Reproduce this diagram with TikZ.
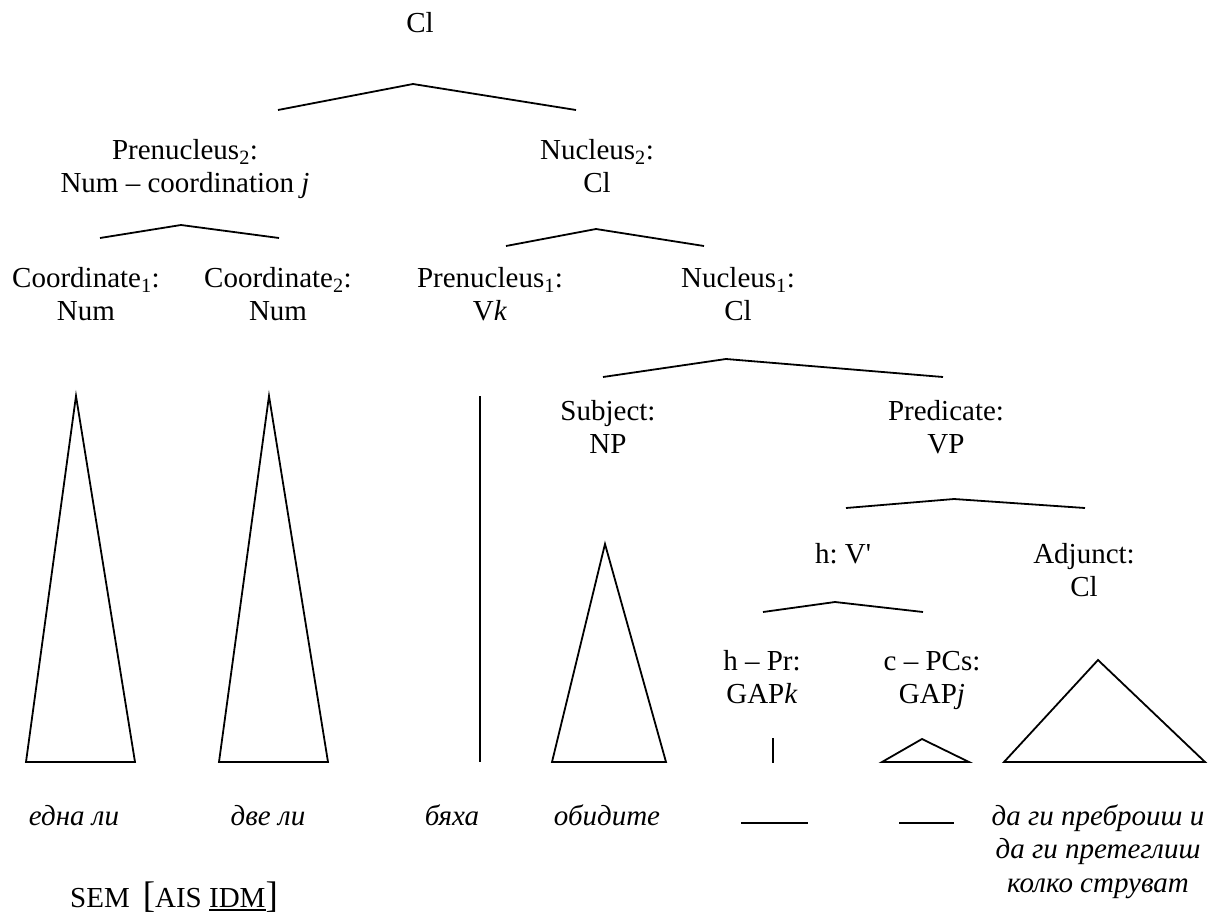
\documentclass[tikz,border=0pt]{standalone}
\usepackage{fontspec}
\setmainfont{Liberation Serif}[Ligatures=TeXOff]
\frenchspacing
% underline drawn as a rule a little below the baseline
\newcommand\ulbar[1]{\setbox0\hbox{#1}\rlap{\rule[-3.5pt]{\wd0}{1.5pt}}\box0}
\begin{document}
\begin{tikzpicture}[x=1pt,y=-1pt,
  lbl/.style={anchor=north,inner sep=0pt,align=center,yshift=23.45pt,
    font=\fontsize{29}{33.5}\selectfont},
  word/.style={lbl,font=\fontsize{29}{33.5}\selectfont\itshape},
  tree/.style={line width=1.8pt,line join=miter,line cap=butt}]
\useasboundingbox (0,0) rectangle (1218,913);

% labels (first baseline given)
\node[lbl] (cl)   at (420,32)  {Cl\strut};
\node[lbl] (pre2) at (185,159) {Prenucleus\textsubscript{2}:\strut\\Num – coordination \textit{j}\strut};
\node[lbl] (nuc2) at (597,159) {Nucleus\textsubscript{2}:\strut\\Cl\strut};
\node[lbl] (co1)  at (86,287)  {Coordinate\textsubscript{1}:\strut\\Num\strut};
\node[lbl] (co2)  at (278,287) {Coordinate\textsubscript{2}:\strut\\Num\strut};
\node[lbl] (pre1) at (490,287) {Prenucleus\textsubscript{1}:\strut\\V\textit{k}\strut};
\node[lbl] (nuc1) at (738,287) {Nucleus\textsubscript{1}:\strut\\Cl\strut};
\node[lbl] (subj) at (608,420) {Subject:\strut\\NP\strut};
\node[lbl] (pred) at (946,420) {Predicate:\strut\\VP\strut};
\node[lbl] (vbar) at (843,563) {h: V'\strut};
\node[lbl] (adj)  at (1084,563) {Adjunct:\strut\\Cl\strut};
\node[lbl] (hpr)  at (762,670) {h – Pr:\strut\\GAP\textit{k}\strut};
\node[lbl] (cpc)  at (932,670) {c – PCs:\strut\\GAP\textit{j}\strut};

% words
\node[word] (w1) at (74,825)   {една ли\strut};
\node[word] (w2) at (268,825)  {две ли\strut};
\node[word] (w3) at (452,825)  {бяха\strut};
\node[word] (w4) at (607,825)  {обидите\strut};
\node[word] (w5) at (1098,825) {да ги преброиш и\strut\\да ги претеглиш\strut\\колко струват\strut};

\node[anchor=base west,inner sep=0pt,font=\fontsize{29}{33.5}\selectfont] (sem) at (70,907)
  {SEM\hspace{13pt}{\fontsize{37}{37}\selectfont[}AIS \ulbar{IDM}{\fontsize{37}{37}\selectfont]}};

% branching roofs
\draw[tree] (278,110) -- (413,84)  -- (576,110);
\draw[tree] (100,238) -- (181,225) -- (279,238);
\draw[tree] (506,246) -- (596,229) -- (704,246);
\draw[tree] (603,377) -- (726,359) -- (943,377);
\draw[tree] (846,508) -- (954,499) -- (1085,508);
\draw[tree] (763,612) -- (835,602) -- (923,612);

% triangles and stems
\draw[tree] (76,396)   -- (26,762)  -- (135,762)  -- cycle;
\draw[tree] (269,396)  -- (219,762) -- (328,762)  -- cycle;
\draw[tree] (480,396)  -- (480,762);
\draw[tree] (605,544)  -- (552,762) -- (666,762)  -- cycle;
\draw[tree] (773,738)  -- (773,763);
\draw[tree] (922,739)  -- (882,762) -- (969,762)  -- cycle;
\draw[tree] (1098,660) -- (1004,762) -- (1205,762) -- cycle;

% gaps
\draw[tree] (741,823) -- (808,823);
\draw[tree] (899,823) -- (954,823);
\end{tikzpicture}
\end{document}
